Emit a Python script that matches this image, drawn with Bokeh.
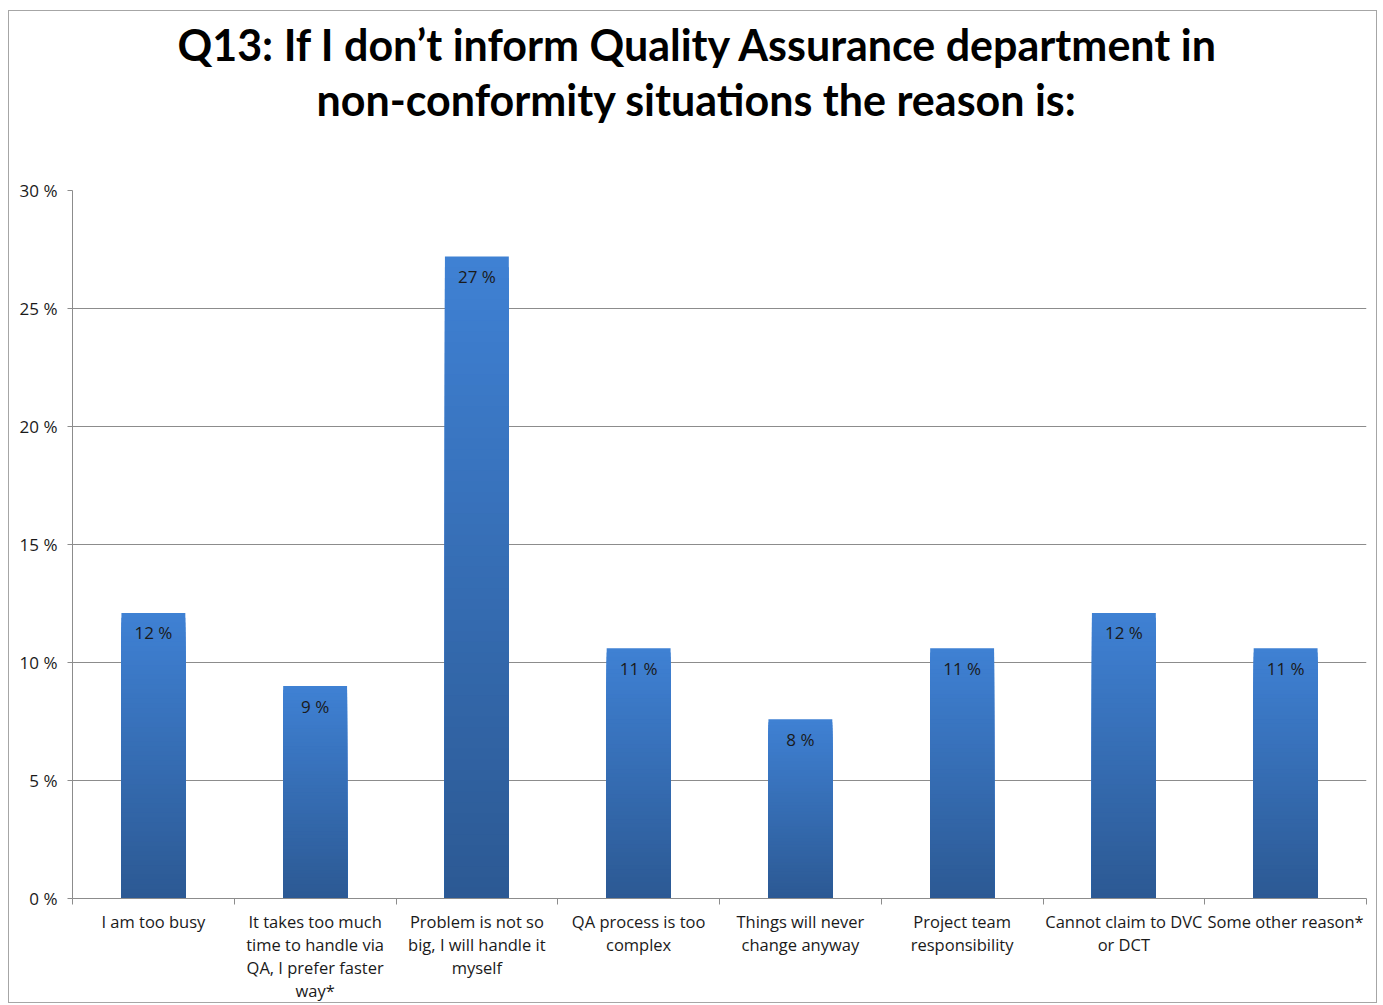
from bokeh.plotting import figure
from bokeh.models import (ColumnDataSource, Range1d, FixedTicker, PrintfTickFormatter, Title)
from bokeh.core.properties import value
from bokeh.embed import file_html
from bokeh.resources import INLINE

categories = [
    "I am too busy",
    "It takes too much\ntime to handle via\nQA, I prefer faster\nway*",
    "Problem is not so\nbig, I will handle it\nmyself",
    "QA process is too\ncomplex",
    "Things will never\nchange anyway",
    "Project team\nresponsibility",
    "Cannot claim to DVC\nor DCT",
    "Some other reason*",
]
values = [12.1, 9.0, 27.2, 10.6, 7.6, 10.6, 12.1, 10.6]
y_ticks = [0, 5, 10, 15, 20, 25, 30]
title_lines = ["Q13: If I don\u2019t inform Quality Assurance department in",
               "non-conformity situations the reason is:"]

FONT = "Open Sans"
TFONT = "Lato"

p = figure(width=1369, height=993, output_backend="svg", toolbar_location=None,
           x_range=Range1d(0, len(categories)), y_range=Range1d(0, 30),
           min_border_left=63, min_border_right=12, min_border_top=179,
           min_border_bottom=101, background_fill_color="white",
           border_fill_color="white")
p.outline_line_color = None
p.margin = (10, 0, 0, 8)
p.styles = {"border": "1px solid #a6a6a6", "box-sizing": "border-box"}

# gradient bars built from values (painted largest first, no seams)
N = 60
top_rgb = (63, 129, 212)
bot_rgb = (44, 89, 147)
xs, tops, colors = [], [], []
for i in reversed(range(N)):
    t = (i + 0.5) / N
    col = "#%02x%02x%02x" % tuple(round(b + (a - b) * t) for a, b in zip(top_rgb, bot_rgb))
    for j, v in enumerate(values):
        xs.append(j + 0.5)
        tops.append(v * (i + 1) / N)
        colors.append(col)
src = ColumnDataSource(dict(x=xs, top=tops, color=colors))
p.vbar(x="x", bottom=0, top="top", width=0.395, fill_color="color",
       line_color=None, source=src)

lab_src = ColumnDataSource(dict(x=[j + 0.5 for j in range(len(values))], y=values,
                                text=["%d %%" % round(v) for v in values]))
p.text(x="x", y="y", text="text", source=lab_src, text_align="center",
       text_baseline="middle", y_offset=20, text_font=value(FONT),
       text_font_size="17px", text_color="#1a1a1a")

# grid
p.xgrid.grid_line_color = None
p.ygrid.ticker = FixedTicker(ticks=y_ticks)
p.ygrid.grid_line_color = "#8c8c8c"
p.ygrid.grid_line_width = 1

# y axis
p.yaxis.ticker = FixedTicker(ticks=y_ticks)
p.yaxis.formatter = PrintfTickFormatter(format="%d %%")
p.yaxis.axis_line_color = "#8c8c8c"
p.yaxis.major_tick_line_color = "#8c8c8c"
p.yaxis.major_tick_out = 5
p.yaxis.major_tick_in = 0
p.yaxis.minor_tick_line_color = None
p.yaxis.major_label_standoff = 10
p.yaxis.major_label_text_font = FONT
p.yaxis.major_label_text_font_size = "17px"
p.yaxis.major_label_text_color = "#1a1a1a"

# x axis
centers = [j + 0.5 for j in range(len(categories))]
p.xaxis.ticker = FixedTicker(ticks=centers, minor_ticks=list(range(len(categories) + 1)))
p.xaxis.major_label_overrides = {c: lab for c, lab in zip(centers, categories)}
p.xaxis.axis_line_color = "#8c8c8c"
p.xaxis.major_tick_line_color = None
p.xaxis.minor_tick_line_color = "#8c8c8c"
p.xaxis.minor_tick_out = 6
p.xaxis.minor_tick_in = 0
p.xaxis.major_label_standoff = 5
p.xaxis.major_label_text_font = FONT
p.xaxis.major_label_text_font_size = "16.5px"
p.xaxis.major_label_text_color = "#1a1a1a"
p.xaxis.major_label_text_line_height = 1.0
p.xaxis.major_label_text_align = "center"

# title (two lines + spacer closest to the frame)
spacer = Title(text=" ", text_font=TFONT, text_font_size="43px", standoff=12)
p.add_layout(spacer, "above")
t2 = Title(text=title_lines[1], align="left", text_font=TFONT, text_font_style="bold",
           text_font_size="43px", text_color="#000000", standoff=2, offset=244)
p.add_layout(t2, "above")
t1 = Title(text=title_lines[0], align="left", text_font=TFONT, text_font_style="bold",
           text_font_size="43px", text_color="#000000", standoff=2, offset=105)
p.add_layout(t1, "above")
p.title.visible = False

open("out.html", "w").write(file_html(p, INLINE))
